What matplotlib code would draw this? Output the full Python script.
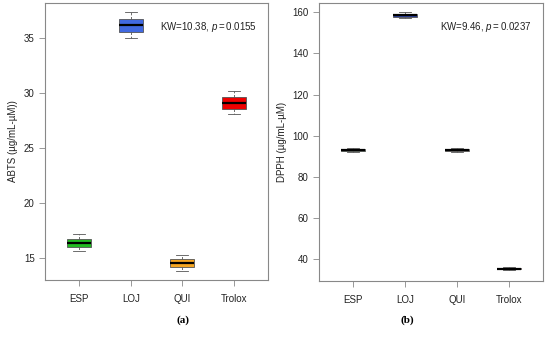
import matplotlib
matplotlib.use("Agg")
import matplotlib.pyplot as plt

groups = ["ESP", "LOJ", "QUI", "Trolox"]

# ABTS panel: whisker low, q1, median, q3, whisker high
abts_whislo = [15.65, 35.05, 13.8, 28.07]
abts_q1 = [16.0, 35.6, 14.18, 28.58]
abts_med = [16.37, 36.2, 14.52, 29.13]
abts_q3 = [16.73, 36.76, 14.88, 29.62]
abts_whishi = [17.13, 37.37, 15.22, 30.17]
abts_colors = ["#22bb22", "#4169e1", "#f5a623", "#ee0000"]

# DPPH panel
dpph_whislo = [92.2, 157.0, 92.2, 34.8]
dpph_q1 = [92.7, 157.8, 92.5, 35.1]
dpph_med = [93.2, 158.5, 93.0, 35.5]
dpph_q3 = [93.7, 159.0, 93.5, 35.9]
dpph_whishi = [94.3, 160.0, 93.9, 36.3]
dpph_colors = ["#2e6b2e", "#2a3f9a", "#9a8f80", "#8a2a2a"]

plt.rcParams["font.family"] = ["Liberation Sans", "DejaVu Sans"]
plt.rcParams["mathtext.fontset"] = "custom"
plt.rcParams["mathtext.rm"] = "Liberation Sans"
plt.rcParams["mathtext.it"] = "Liberation Sans:italic"

fig = plt.figure(figsize=(5.5, 3.44), dpi=100)
ax_a = fig.add_axes([45 / 550, 1 - 280 / 344, 223 / 550, 277 / 344])
ax_b = fig.add_axes([319 / 550, 1 - 281 / 344, 224 / 550, 278 / 344])


def draw(ax, lo, q1, med, q3, hi, colors, ylim, yticks, ylabel, note):
    stats = []
    for i in range(len(groups)):
        stats.append(dict(whislo=lo[i], q1=q1[i], med=med[i], q3=q3[i],
                          whishi=hi[i], fliers=[], label=groups[i]))
    bp = ax.bxp(stats, positions=range(1, len(groups) + 1), widths=0.46,
                patch_artist=True, showfliers=False,
                boxprops=dict(edgecolor="#555555", linewidth=0.6),
                medianprops=dict(color="black", linewidth=1.6),
                whiskerprops=dict(color="#555555", linewidth=0.6, linestyle=(0, (3, 2))),
                capprops=dict(color="#555555", linewidth=0.6),
                capwidths=0.23)
    for patch, c in zip(bp["boxes"], colors):
        patch.set_facecolor(c)
    ax.set_xlim(0.34, 4.66)
    ax.set_ylim(*ylim)
    ax.set_yticks(yticks)
    ax.set_xticks(range(1, len(groups) + 1))
    ax.set_xticklabels(groups)
    for s in ax.spines.values():
        s.set_color("#888888")
        s.set_linewidth(0.8)
    ax.tick_params(axis="both", colors="#888888", labelcolor="#222222",
                   labelsize=7, length=4, width=0.6)
    ax.tick_params(axis="x", pad=6)
    ax.set_ylabel(ylabel, fontsize=7, color="#222222", labelpad=4)
    ax.text(0.95, 0.915, note, transform=ax.transAxes, ha="right", va="center",
            fontsize=7, color="#222222")


draw(ax_a, abts_whislo, abts_q1, abts_med, abts_q3, abts_whishi, abts_colors,
     (12.97, 38.2), [15, 20, 25, 30, 35], "ABTS (µg/mL-µM))",
     "KW=10.38, $\\mathit{p=0.0155}$")
draw(ax_b, dpph_whislo, dpph_q1, dpph_med, dpph_q3, dpph_whishi, dpph_colors,
     (29.5, 164.5), [40, 60, 80, 100, 120, 140, 160], "DPPH (µg/mL-µM)",
     "KW=9.46, $\\mathit{p=0.0237}$")

fig.text(183 / 550, 1 - 320 / 344, "(a)", ha="center", va="center",
         fontsize=8, fontweight="bold", family=["Liberation Serif", "DejaVu Serif"])
fig.text(407 / 550, 1 - 320 / 344, "(b)", ha="center", va="center",
         fontsize=8, fontweight="bold", family=["Liberation Serif", "DejaVu Serif"])

fig.savefig("out.png", dpi=100)
